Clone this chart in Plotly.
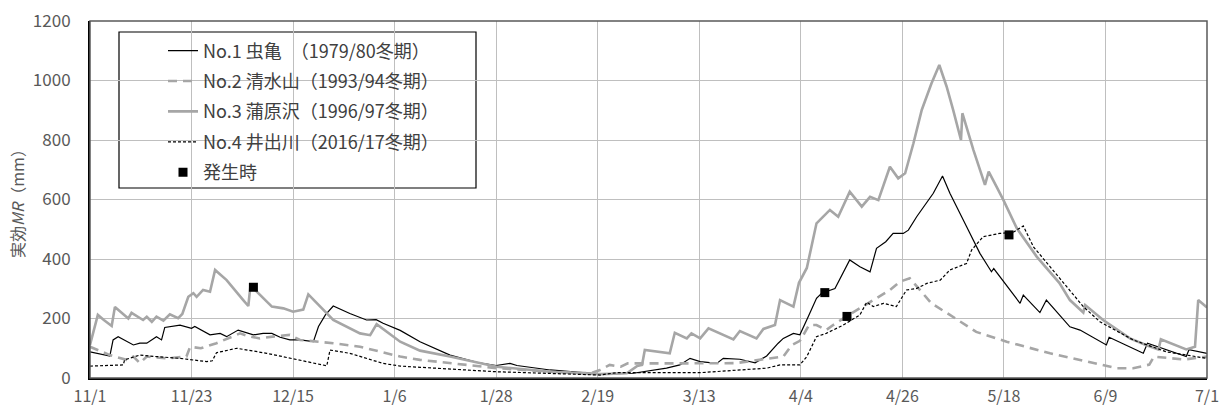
import plotly.graph_objects as go

# Day offsets counted from 11/1; values are effective MR in mm
tick_days = [0, 22, 44, 66, 88, 110, 132, 154, 176, 198, 220, 242]
tick_labels = ["11/1", "11/23", "12/15", "1/6", "1/28", "2/19", "3/13",
               "4/4", "4/26", "5/18", "6/9", "7/1"]

no1_day = [0, 4.3, 5.0, 6.1, 9.4, 10.8, 12.3, 14.4, 15.5, 16.2, 19.5, 22.0, 22.7,
           26.0, 28.2, 29.6, 32.1, 35.4, 37.5, 39.4, 41.2, 43.3, 45.5, 48.4, 49.5,
           51.0, 52.7, 56.3, 59.9, 62.0, 63.5, 67.2, 71.5, 78.0, 84.0, 88.0, 91.0,
           92.5, 99.7, 110.5, 117.7, 124.9, 127.8, 130.0, 132.2, 135.8, 137.2,
           140.8, 144.1, 146.6, 149.1, 150.2, 152.4, 153.8, 155.6, 157.4, 158.5,
           161.4, 164.6, 166.8, 169.0, 170.4, 172.4, 174.0, 176.2, 177.3, 179.1,
           180.9, 182.7, 184.7, 186.3, 189.9, 192.8, 195.3, 195.8, 201.5, 202.2,
           205.8, 207.2, 212.3, 214.5, 220.2, 220.8, 228.2, 229.1, 237.5, 238.1, 242]
no1_mr = [88, 74, 128, 139, 111, 117, 117, 139, 128, 170, 178, 167, 173,
          145, 150, 139, 161, 145, 150, 150, 137, 128, 128, 122, 173,
          212, 242, 217, 195, 196, 184, 160, 122, 77, 52, 42, 49,
          42, 27, 13, 16, 33, 44, 66, 55, 49, 66,
          63, 51, 74, 117, 133, 150, 145, 206, 268, 285,
          301, 397, 374, 357, 436, 458, 486, 486, 497, 542,
          582, 621, 679, 621, 509, 419, 357, 368, 251, 279,
          220, 262, 172, 161, 111, 137, 83, 117, 72, 95, 83]

no2_day = [0, 4.3, 7.9, 9.4, 10.8, 12.3, 16.6, 20.9, 21.7, 24.0, 27.4, 30.0,
           32.5, 34.5, 36.8, 40.0, 43.3, 45.5, 52.7, 58.5, 67.2, 71.5, 78.0,
           88.1, 99.7, 108.5, 110.5, 112.6, 115.0, 116.5, 125.0, 132.2, 140.0,
           145.0, 150.2, 152.0, 153.8, 155.8, 157.4, 159.5, 161.0, 163.8, 166.8,
           170.4, 173.3, 175.5, 177.6, 179.8, 182.3, 186.3, 192.0, 198.6, 205.0,
           208.0, 215.2, 222.4, 226.0, 229.5, 230.5, 237.0, 242]
no2_mr = [105, 77, 61, 72, 50, 72, 66, 72, 105, 100, 117, 135,
          150, 140, 133, 140, 145, 128, 117, 105, 72, 61, 50,
          33, 21, 16, 27, 44, 38, 49, 49, 49, 50,
          61, 72, 110, 125, 178, 178, 161, 178, 206, 234,
          268, 296, 324, 335, 296, 251, 212, 155, 122, 95,
          83, 58, 33, 33, 45, 72, 62, 72]

no3_day = [0, 1.7, 3.0, 4.7, 5.4, 8.3, 9.0, 11.5, 12.3, 13.4, 14.4, 15.9, 17.3,
           19.1, 20.0, 21.3, 22.4, 23.1, 24.5, 26.0, 27.1, 29.6, 33.2, 34.3, 34.7,
           35.5, 39.4, 41.9, 44.0, 46.2, 47.3, 52.7, 58.5, 60.7, 62.1, 64.0, 67.2,
           71.5, 78.0, 88.1, 99.7, 110.5, 116.3, 118.5, 119.6, 120.2, 125.6, 126.7,
           129.3, 130.3, 132.2, 134.0, 139.4, 140.8, 144.4, 145.9, 148.4, 149.5,
           152.4, 153.6, 155.3, 156.3, 157.4, 160.3, 162.1, 164.6, 167.2, 169.0,
           170.8, 173.3, 175.1, 176.6, 178.4, 180.2, 182.3, 184.0, 185.6, 187.0,
           188.7, 189.0, 191.4, 193.9, 194.7, 196.4, 197.9, 200.8, 205.1, 210.0,
           212.3, 215.2, 215.6, 219.5, 225.3, 228.9, 231.5, 232.0, 237.5, 239.4,
           240.1, 242]
no3_mr = [111, 212, 195, 175, 239, 200, 219, 195, 206, 189, 206, 193, 214,
          201, 215, 273, 285, 273, 296, 290, 363, 329, 262, 242, 301,
          300, 240, 234, 223, 230, 281, 195, 150, 144, 181, 160, 122,
          92, 72, 38, 21, 13, 16, 40, 44, 94, 83, 152,
          133, 150, 133, 167, 130, 158, 133, 165, 178, 262,
          240, 320, 370, 441, 520, 565, 542, 626, 576, 609,
          598, 710, 671, 688, 789, 901, 990, 1052, 979, 901,
          800, 890, 766, 649, 694, 643, 598, 503, 408, 320,
          262, 220, 245, 195, 133, 110, 96, 130, 96, 105,
          262, 237]

no4_day = [0, 5.0, 7.2, 7.5, 10.8, 14.4, 19.5, 25.3, 26.5, 27.4, 31.8, 38.3,
           45.5, 51.3, 52.0, 56.3, 63.5, 67.2, 71.5, 88.1, 110.5, 114.1, 132.2,
           146.6, 149.5, 153.8, 155.3, 157.4, 159.5, 163.2, 166.8, 168.3, 169.7,
           171.9, 174.7, 176.9, 179.1, 181.3, 184.2, 186.3, 189.9, 191.0, 193.5,
           197.1, 200.0, 202.2, 204.4, 208.0, 211.6, 215.2, 218.8, 226.0, 233.2, 242]
no4_mr = [40, 42, 44, 61, 77, 72, 66, 55, 58, 85, 100, 83,
          61, 41, 94, 83, 49, 40, 36, 21, 10, 18, 18,
          33, 44, 44, 72, 139, 150, 178, 212, 255, 240,
          251, 240, 296, 301, 318, 329, 363, 385, 430, 475,
          486, 490, 511, 441, 374, 307, 240, 189, 128, 88, 66]

event_day = [35.4, 159.2, 164.0, 199.1]
event_mr = [305, 287, 207, 481]

names = ["No.1 虫亀　（1979/80冬期）", "No.2 清水山（1993/94冬期）",
         "No.3 蒲原沢（1996/97冬期）", "No.4 井出川（2016/17冬期）", "発生時"]

GRAY = "#A6A6A6"
FONT = "Noto Sans CJK JP"

fig = go.Figure()
fig.add_trace(go.Scatter(x=no1_day, y=no1_mr, mode="lines", name=names[0],
                         legendgroup="a", line=dict(color="black", width=1.2)))
fig.add_trace(go.Scatter(x=no2_day, y=no2_mr, mode="lines", name=names[1],
                         legendgroup="b",
                         line=dict(color=GRAY, width=2.6, dash="9px,6px")))
fig.add_trace(go.Scatter(x=no3_day, y=no3_mr, mode="lines", name=names[2],
                         legendgroup="c", line=dict(color=GRAY, width=2.6)))
fig.add_trace(go.Scatter(x=no4_day, y=no4_mr, mode="lines", name=names[3],
                         legendgroup="d",
                         line=dict(color="black", width=1.2, dash="3px,2px")))
fig.add_trace(go.Scatter(x=event_day, y=event_mr, mode="markers", name=names[4],
                         legendgroup="e",
                         marker=dict(symbol="square", size=9, color="black")))

# plot area spans pixels x 90..1207, y 21..378
fig.update_layout(
    width=1221, height=407,
    margin=dict(l=90, r=14, t=21, b=29, autoexpand=False),
    paper_bgcolor="white", plot_bgcolor="white",
    font=dict(family=FONT, color="#595959", size=16),
    showlegend=True,
    legend=dict(x=73 / 1117, y=0.968, xanchor="left", yanchor="top",
                bgcolor="rgba(0,0,0,0)", borderwidth=0, tracegroupgap=4,
                font=dict(size=18, color="#404040"), itemwidth=30),
    xaxis=dict(range=[0, 242], tickmode="array", tickvals=tick_days,
               ticktext=tick_labels, showgrid=True, gridcolor="#BFBFBF",
               gridwidth=1, zeroline=False, showline=True, linecolor="black",
               linewidth=2, ticks="", ticklabelstandoff=3,
               tickfont=dict(size=16, color="#595959")),
    yaxis=dict(range=[0, 1200], tickvals=[0, 200, 400, 600, 800, 1000, 1200],
               showgrid=True, gridcolor="#BFBFBF", gridwidth=1, zeroline=False,
               showline=True, linecolor="black", linewidth=2, ticks="",
               ticklabelstandoff=14,
               tickfont=dict(size=17, color="#595959"),
               title=dict(text="実効<i>MR</i>（mm）", standoff=4,
                          font=dict(size=16, color="#595959"))),
    shapes=[
        dict(type="rect", xref="paper", yref="paper", x0=0, x1=1, y0=0, y1=1,
             line=dict(color="#595959", width=1.5), layer="above"),
        dict(type="rect", xref="paper", yref="paper",
             x0=(119 - 90) / 1117, x1=(476 - 90) / 1117,
             y0=(378 - 188) / 357, y1=(378 - 32) / 357,
             line=dict(color="black", width=1.2), fillcolor="white",
             layer="between"),
    ],
)

fig.write_html("out.html")
